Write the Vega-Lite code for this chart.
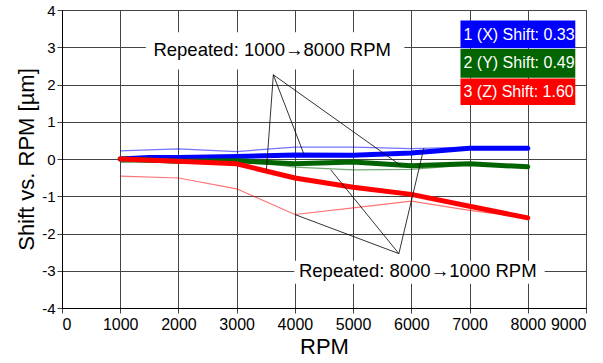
{
  "$schema": "https://vega.github.io/schema/vega-lite/v6.json",
  "width": 524,
  "height": 298,
  "autosize": "none",
  "padding": {"left": 62, "top": 10, "right": 17, "bottom": 55},
  "background": "white",
  "config": {
    "view": {"stroke": "#444", "strokeWidth": 1},
    "font": "Liberation Sans",
    "axis": {
      "grid": true,
      "gridColor": "#444",
      "gridOpacity": 1,
      "gridWidth": 1,
      "domainColor": "#000",
      "tickColor": "#444",
      "tickSize": 5,
      "labelColor": "#000",
      "labelFont": "Liberation Sans",
      "titleFont": "Liberation Sans",
      "titleFontWeight": "normal",
      "titleColor": "#000",
      "titleFontSize": 22
    }
  },
  "datasets": {
    "series": [
      {"axis": "X", "run": "up", "rpm": 1000, "shift": 0.0},
      {"axis": "X", "run": "up", "rpm": 1500, "shift": 0.04},
      {"axis": "X", "run": "up", "rpm": 2000, "shift": 0.04},
      {"axis": "X", "run": "up", "rpm": 3000, "shift": 0.07},
      {"axis": "X", "run": "up", "rpm": 4000, "shift": 0.11},
      {"axis": "X", "run": "up", "rpm": 5000, "shift": 0.1},
      {"axis": "X", "run": "up", "rpm": 6000, "shift": 0.16},
      {"axis": "X", "run": "up", "rpm": 7000, "shift": 0.29},
      {"axis": "X", "run": "up", "rpm": 8000, "shift": 0.29},
      {"axis": "Y", "run": "up", "rpm": 1000, "shift": 0.0},
      {"axis": "Y", "run": "up", "rpm": 2000, "shift": -0.06},
      {"axis": "Y", "run": "up", "rpm": 3000, "shift": -0.05},
      {"axis": "Y", "run": "up", "rpm": 4000, "shift": -0.13},
      {"axis": "Y", "run": "up", "rpm": 5000, "shift": -0.08},
      {"axis": "Y", "run": "up", "rpm": 6000, "shift": -0.18},
      {"axis": "Y", "run": "up", "rpm": 7000, "shift": -0.13},
      {"axis": "Y", "run": "up", "rpm": 8000, "shift": -0.21},
      {"axis": "Z", "run": "up", "rpm": 1000, "shift": 0.0},
      {"axis": "Z", "run": "up", "rpm": 2000, "shift": -0.06},
      {"axis": "Z", "run": "up", "rpm": 3000, "shift": -0.13},
      {"axis": "Z", "run": "up", "rpm": 4000, "shift": -0.51},
      {"axis": "Z", "run": "up", "rpm": 5000, "shift": -0.76},
      {"axis": "Z", "run": "up", "rpm": 6000, "shift": -0.95},
      {"axis": "Z", "run": "up", "rpm": 7000, "shift": -1.27},
      {"axis": "Z", "run": "up", "rpm": 8000, "shift": -1.58},
      {"axis": "X", "run": "down", "rpm": 1000, "shift": 0.22},
      {"axis": "X", "run": "down", "rpm": 2000, "shift": 0.27},
      {"axis": "X", "run": "down", "rpm": 3000, "shift": 0.2},
      {"axis": "X", "run": "down", "rpm": 4000, "shift": 0.32},
      {"axis": "X", "run": "down", "rpm": 5000, "shift": 0.32},
      {"axis": "X", "run": "down", "rpm": 6000, "shift": 0.28},
      {"axis": "X", "run": "down", "rpm": 7000, "shift": 0.32},
      {"axis": "X", "run": "down", "rpm": 8000, "shift": 0.29},
      {"axis": "Y", "run": "down", "rpm": 1000, "shift": -0.09},
      {"axis": "Y", "run": "down", "rpm": 2000, "shift": -0.08},
      {"axis": "Y", "run": "down", "rpm": 3000, "shift": -0.02},
      {"axis": "Y", "run": "down", "rpm": 4000, "shift": -0.22},
      {"axis": "Y", "run": "down", "rpm": 5000, "shift": -0.29},
      {"axis": "Y", "run": "down", "rpm": 6000, "shift": -0.28},
      {"axis": "Y", "run": "down", "rpm": 7000, "shift": -0.16},
      {"axis": "Y", "run": "down", "rpm": 8000, "shift": -0.21},
      {"axis": "Z", "run": "down", "rpm": 1000, "shift": -0.46},
      {"axis": "Z", "run": "down", "rpm": 2000, "shift": -0.51},
      {"axis": "Z", "run": "down", "rpm": 3000, "shift": -0.8},
      {"axis": "Z", "run": "down", "rpm": 4000, "shift": -1.49},
      {"axis": "Z", "run": "down", "rpm": 5000, "shift": -1.31},
      {"axis": "Z", "run": "down", "rpm": 6000, "shift": -1.13},
      {"axis": "Z", "run": "down", "rpm": 7000, "shift": -1.38},
      {"axis": "Z", "run": "down", "rpm": 8000, "shift": -1.58}
    ],
    "pointers": [
      {"rpm": 3630, "shift": 2.26, "rpm2": 3510, "shift2": -0.31},
      {"rpm": 3630, "shift": 2.26, "rpm2": 4160, "shift2": 0.11},
      {"rpm": 3630, "shift": 2.26, "rpm2": 5815, "shift2": -0.17},
      {"rpm": 5786, "shift": -2.54, "rpm2": 6215, "shift2": 0.29},
      {"rpm": 5786, "shift": -2.54, "rpm2": 4616, "shift2": -0.29},
      {"rpm": 5786, "shift": -2.54, "rpm2": 4000, "shift2": -1.49}
    ],
    "labels": [
      {"label": "Repeated: 1000→8000 RPM", "rpm": 1570, "shift": 2.93, "x1": 1440, "x2": 5880, "y1": 3.4, "y2": 2.4},
      {"label": "Repeated: 8000→1000 RPM", "rpm": 4070, "shift": -3.02, "x1": 3990, "x2": 8290, "y1": -2.73, "y2": -3.35}
    ],
    "legend": [
      {"axis": "X", "label": "1 (X) Shift: 0.33", "x1": 6844, "x2": 8816, "y1": 3.72, "y2": 2.97, "ty": 3.34},
      {"axis": "Y", "label": "2 (Y) Shift: 0.49", "x1": 6844, "x2": 8816, "y1": 2.95, "y2": 2.18, "ty": 2.57},
      {"axis": "Z", "label": "3 (Z) Shift: 1.60", "x1": 6844, "x2": 8816, "y1": 2.16, "y2": 1.45, "ty": 1.8}
    ]
  },
  "layer": [
    {
      "data": {"name": "labels"},
      "mark": {"type": "rect", "color": "white"},
      "encoding": {
        "x": {"field": "x1", "type": "quantitative", "scale": {"domain": [0, 9000]},
          "axis": {"values": [0, 1000, 2000, 3000, 4000, 5000, 6000, 7000, 8000, 9000], "labelExpr": "'' + datum.value", "title": "RPM", "labelFontSize": 16, "labelPadding": 3, "titlePadding": 4}},
        "x2": {"field": "x2"},
        "y": {"field": "y1", "type": "quantitative", "scale": {"domain": [-4, 4]},
          "axis": {"values": [-4, -3, -2, -1, 0, 1, 2, 3, 4], "labelExpr": "'' + datum.value", "title": "Shift vs. RPM [µm]", "labelFontSize": 15, "labelPadding": 2, "titlePadding": 3}},
        "y2": {"field": "y2"}
      }
    },
    {
      "data": {"name": "series"},
      "transform": [{"filter": "datum.run === 'down'"}],
      "mark": {"type": "line", "strokeWidth": 1.2, "opacity": 0.55},
      "encoding": {
        "x": {"field": "rpm", "type": "quantitative",
          "axis": {"values": [0, 1000, 2000, 3000, 4000, 5000, 6000, 7000, 8000, 9000], "labelExpr": "'' + datum.value", "title": "RPM", "labelFontSize": 16, "labelPadding": 3, "titlePadding": 4}},
        "y": {"field": "shift", "type": "quantitative",
          "axis": {"values": [-4, -3, -2, -1, 0, 1, 2, 3, 4], "labelExpr": "'' + datum.value", "title": "Shift vs. RPM [µm]", "labelFontSize": 15, "labelPadding": 2, "titlePadding": 3}},
        "color": {"field": "axis", "type": "nominal", "scale": {"domain": ["X", "Y", "Z"], "range": ["#0000ff", "#006400", "#ff0000"]}, "legend": null}
      }
    },
    {
      "data": {"name": "series"},
      "transform": [{"filter": "datum.run === 'up'"}],
      "mark": {"type": "line", "strokeWidth": 5, "strokeCap": "round"},
      "encoding": {
        "x": {"field": "rpm", "type": "quantitative",
          "axis": {"values": [0, 1000, 2000, 3000, 4000, 5000, 6000, 7000, 8000, 9000], "labelExpr": "'' + datum.value", "title": "RPM", "labelFontSize": 16, "labelPadding": 3, "titlePadding": 4}},
        "y": {"field": "shift", "type": "quantitative",
          "axis": {"values": [-4, -3, -2, -1, 0, 1, 2, 3, 4], "labelExpr": "'' + datum.value", "title": "Shift vs. RPM [µm]", "labelFontSize": 15, "labelPadding": 2, "titlePadding": 3}},
        "color": {"field": "axis", "type": "nominal", "scale": {"domain": ["X", "Y", "Z"], "range": ["#0000ff", "#006400", "#ff0000"]}, "legend": null}
      }
    },
    {
      "data": {"name": "pointers"},
      "mark": {"type": "rule", "color": "#000", "strokeWidth": 0.8},
      "encoding": {
        "x": {"field": "rpm", "type": "quantitative",
          "axis": {"values": [0, 1000, 2000, 3000, 4000, 5000, 6000, 7000, 8000, 9000], "labelExpr": "'' + datum.value", "title": "RPM", "labelFontSize": 16, "labelPadding": 3, "titlePadding": 4}},
        "y": {"field": "shift", "type": "quantitative",
          "axis": {"values": [-4, -3, -2, -1, 0, 1, 2, 3, 4], "labelExpr": "'' + datum.value", "title": "Shift vs. RPM [µm]", "labelFontSize": 15, "labelPadding": 2, "titlePadding": 3}},
        "x2": {"field": "rpm2"},
        "y2": {"field": "shift2"}
      }
    },
    {
      "data": {"name": "labels"},
      "mark": {"type": "text", "align": "left", "baseline": "middle", "fontSize": 18.5, "font": "Liberation Sans", "color": "#000"},
      "encoding": {
        "x": {"field": "rpm", "type": "quantitative",
          "axis": {"values": [0, 1000, 2000, 3000, 4000, 5000, 6000, 7000, 8000, 9000], "labelExpr": "'' + datum.value", "title": "RPM", "labelFontSize": 16, "labelPadding": 3, "titlePadding": 4}},
        "y": {"field": "shift", "type": "quantitative",
          "axis": {"values": [-4, -3, -2, -1, 0, 1, 2, 3, 4], "labelExpr": "'' + datum.value", "title": "Shift vs. RPM [µm]", "labelFontSize": 15, "labelPadding": 2, "titlePadding": 3}},
        "text": {"field": "label"}
      }
    },
    {
      "data": {"name": "legend"},
      "mark": {"type": "rect"},
      "encoding": {
        "x": {"field": "x1", "type": "quantitative",
          "axis": {"values": [0, 1000, 2000, 3000, 4000, 5000, 6000, 7000, 8000, 9000], "labelExpr": "'' + datum.value", "title": "RPM", "labelFontSize": 16, "labelPadding": 3, "titlePadding": 4}},
        "x2": {"field": "x2"},
        "y": {"field": "y1", "type": "quantitative",
          "axis": {"values": [-4, -3, -2, -1, 0, 1, 2, 3, 4], "labelExpr": "'' + datum.value", "title": "Shift vs. RPM [µm]", "labelFontSize": 15, "labelPadding": 2, "titlePadding": 3}},
        "y2": {"field": "y2"},
        "color": {"field": "axis", "type": "nominal", "scale": {"domain": ["X", "Y", "Z"], "range": ["#0000ff", "#006400", "#ff0000"]}, "legend": null}
      }
    },
    {
      "data": {"name": "legend"},
      "mark": {"type": "text", "align": "left", "baseline": "middle", "fontSize": 16, "font": "Liberation Sans", "color": "white", "dx": 3},
      "encoding": {
        "x": {"field": "x1", "type": "quantitative",
          "axis": {"values": [0, 1000, 2000, 3000, 4000, 5000, 6000, 7000, 8000, 9000], "labelExpr": "'' + datum.value", "title": "RPM", "labelFontSize": 16, "labelPadding": 3, "titlePadding": 4}},
        "y": {"field": "ty", "type": "quantitative",
          "axis": {"values": [-4, -3, -2, -1, 0, 1, 2, 3, 4], "labelExpr": "'' + datum.value", "title": "Shift vs. RPM [µm]", "labelFontSize": 15, "labelPadding": 2, "titlePadding": 3}},
        "text": {"field": "label"}
      }
    }
  ]
}
